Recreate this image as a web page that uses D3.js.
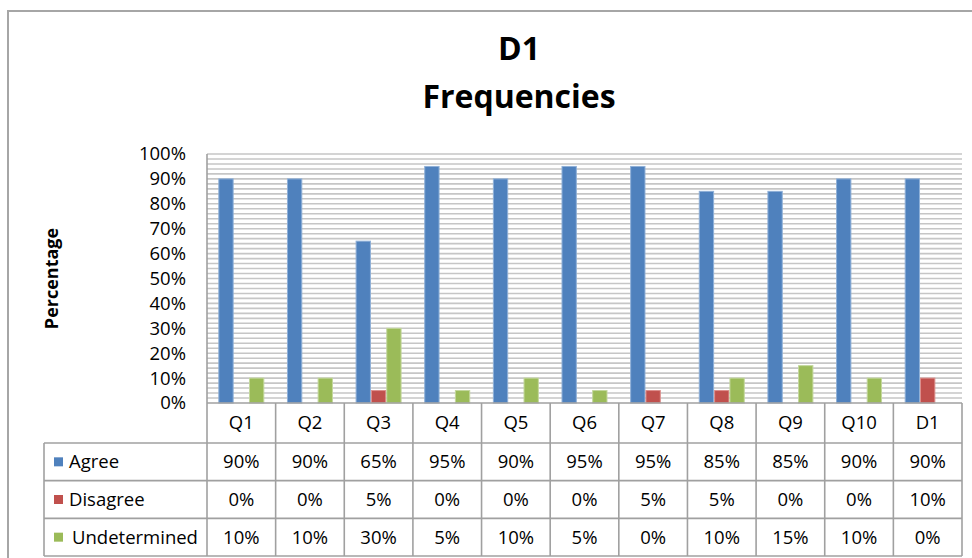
<!DOCTYPE html>
<html>
<head>
<meta charset="utf-8">
<script src="https://cdn.jsdelivr.net/npm/d3@7"></script>
<style>
  body { margin: 0; background: #fff; }
  text { font-family: "Open Sans", sans-serif; fill: #000; }
</style>
</head>
<body>
<svg id="chart" width="972" height="558"></svg>
<script>
var categories = ["Q1", "Q2", "Q3", "Q4", "Q5", "Q6", "Q7", "Q8", "Q9", "Q10", "D1"];
var seriesNames = ["Agree", "Disagree", "Undetermined"];
var seriesColors = ["#4f81bd", "#c0504d", "#9bbb59"];
var seriesEdges = ["#8fb0d8", "#dc8e8c", "#c3d79c"];
var agree = [90, 90, 65, 95, 90, 95, 95, 85, 85, 90, 90];
var disagree = [0, 0, 5, 0, 0, 0, 5, 5, 0, 0, 10];
var undetermined = [10, 10, 30, 5, 10, 5, 0, 10, 15, 10, 0];
var yTicks = [0, 10, 20, 30, 40, 50, 60, 70, 80, 90, 100];

var series = [agree, disagree, undetermined];

var svg = d3.select("#chart");
var plotLeft = 207, plotRight = 962, plotTop = 154, plotBottom = 403;
var tableLeft = 44, headerBottom = 443, tableBottom = 556;

// outer chart border
svg.append("rect")
    .attr("x", 8).attr("y", 11)
    .attr("width", 1000).attr("height", 600)
    .attr("fill", "#fff")
    .attr("stroke", "#a6a6a6")
    .attr("stroke-width", 2);

// title
svg.append("text").attr("x", 519).attr("y", 60)
    .attr("text-anchor", "middle")
    .style("font-size", "32px").style("font-weight", "bold")
    .text("D1");
svg.append("text").attr("x", 519).attr("y", 108)
    .attr("text-anchor", "middle")
    .style("font-size", "32px").style("font-weight", "bold")
    .text("Frequencies");

var x = d3.scaleBand()
    .domain(categories)
    .range([plotLeft, plotRight])
    .paddingInner(0.33)
    .paddingOuter(0.165);

var xs = d3.scaleBand()
    .domain(seriesNames)
    .range([0, x.bandwidth()]);

var col = d3.scaleBand()
    .domain(categories)
    .range([plotLeft, plotRight]);

var y = d3.scaleLinear()
    .domain([0, 100])
    .range([plotBottom, plotTop]);

// minor gridlines every 2%
svg.append("g")
  .selectAll("line")
  .data(d3.range(2, 101, 2))
  .enter().append("line")
    .attr("x1", plotLeft).attr("x2", plotRight)
    .attr("y1", function(d) { return y(d); })
    .attr("y2", function(d) { return y(d); })
    .attr("stroke", "#c6c6c6")
    .attr("stroke-width", 1.6);

// y axis labels
var yAxis = d3.axisLeft(y)
    .tickValues(yTicks)
    .tickSize(0)
    .tickPadding(21)
    .tickFormat(function(d) { return d + "%"; });

var ya = svg.append("g")
    .attr("transform", "translate(" + plotLeft + ",0)")
    .call(yAxis);
ya.select(".domain").remove();
ya.selectAll("text")
    .style("font-size", "18.5px")
    .style("font-family", "'Open Sans', sans-serif")
    .attr("fill", "#000");

// y axis title
svg.append("text")
    .attr("transform", "translate(58," + (plotTop + plotBottom) / 2 + ") rotate(-90)")
    .attr("text-anchor", "middle")
    .style("font-size", "18px").style("font-weight", "bold")
    .text("Percentage");

// bars
var groups = svg.append("g")
  .selectAll("g")
  .data(series)
  .enter().append("g")
    .attr("fill", function(d, i) { return seriesColors[i]; })
    .attr("stroke", function(d, i) { return seriesEdges[i]; });

groups.each(function(vals, si) {
  d3.select(this).selectAll("rect")
    .data(vals.map(function(v, ci) { return { cat: categories[ci], v: v }; })
                .filter(function(d) { return d.v > 0; }))
    .enter().append("rect")
      .attr("x", function(d) { return x(d.cat) + xs(seriesNames[si]) + 0.5; })
      .attr("width", xs.bandwidth() - 1)
      .attr("y", function(d) { return y(d.v); })
      .attr("height", function(d) { return y(0) - y(d.v); })
      .attr("stroke-width", 1);
});

// data table
var row = d3.scaleBand()
    .domain(seriesNames)
    .range([headerBottom, tableBottom]);

var grid = svg.append("g")
    .attr("stroke", "#a0a0a0")
    .attr("stroke-width", 1.6);

// left axis line
grid.append("line")
    .attr("x1", plotLeft).attr("x2", plotLeft)
    .attr("y1", plotTop).attr("y2", tableBottom);

// column lines
grid.selectAll(".vcol")
  .data(categories)
  .enter().append("line")
    .attr("x1", function(d) { return col(d) + col.bandwidth(); })
    .attr("x2", function(d) { return col(d) + col.bandwidth(); })
    .attr("y1", plotBottom).attr("y2", tableBottom);

grid.append("line")
    .attr("x1", tableLeft).attr("x2", tableLeft)
    .attr("y1", headerBottom).attr("y2", tableBottom);

// horizontal lines
grid.append("line")
    .attr("x1", plotLeft).attr("x2", plotRight)
    .attr("y1", plotBottom).attr("y2", plotBottom);

grid.selectAll(".hrow")
  .data(seriesNames)
  .enter().append("line")
    .attr("x1", tableLeft).attr("x2", plotRight)
    .attr("y1", function(d) { return row(d); })
    .attr("y2", function(d) { return row(d); });

grid.append("line")
    .attr("x1", tableLeft).attr("x2", plotRight)
    .attr("y1", tableBottom).attr("y2", tableBottom);

// header labels
svg.append("g")
  .selectAll("text")
  .data(categories)
  .enter().append("text")
    .attr("x", function(d) { return col(d) + col.bandwidth() / 2; })
    .attr("y", (plotBottom + headerBottom) / 2)
    .attr("dy", "0.35em")
    .attr("text-anchor", "middle")
    .style("font-size", "18.5px")
    .text(function(d) { return d; });

// legend keys and names
var legend = svg.append("g")
  .selectAll("g")
  .data(seriesNames)
  .enter().append("g")
    .attr("transform", function(d) { return "translate(0," + (row(d) + row.bandwidth() / 2) + ")"; });

legend.append("rect")
    .attr("x", 54).attr("y", -4.5)
    .attr("width", 9).attr("height", 9)
    .attr("fill", function(d, i) { return seriesColors[i]; });

legend.append("text")
    .attr("x", function(d, i) { return i === 2 ? 72 : 69; })
    .attr("dy", "0.35em")
    .style("font-size", "18.5px")
    .text(function(d) { return d; });

// values
series.forEach(function(vals, si) {
  svg.append("g")
    .selectAll("text")
    .data(vals)
    .enter().append("text")
      .attr("x", function(d, ci) { return col(categories[ci]) + col.bandwidth() / 2; })
      .attr("y", row(seriesNames[si]) + row.bandwidth() / 2)
      .attr("dy", "0.35em")
      .attr("text-anchor", "middle")
      .style("font-size", "18.5px")
      .text(function(d) { return d + "%"; });
});
</script>
</body>
</html>
